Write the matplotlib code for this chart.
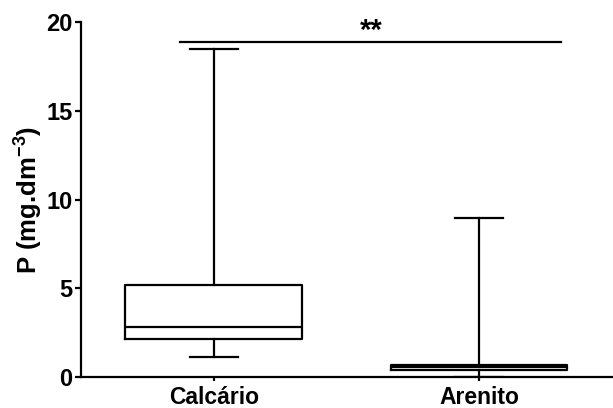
import matplotlib.pyplot as plt

plt.rcParams['font.family'] = ['Liberation Sans', 'DejaVu Sans']
plt.rcParams['mathtext.fontset'] = 'custom'
plt.rcParams['mathtext.bf'] = 'Liberation Sans:bold'
plt.rcParams['mathtext.rm'] = 'Liberation Sans:bold'
plt.rcParams['mathtext.default'] = 'bf'

# dados (P em mg.dm-3)
grupos = ['Calcário', 'Arenito']
minimo = [1.1, 0.0]
q1 = [2.12, 0.42]
mediana = [2.8, 0.55]
q3 = [5.18, 0.69]
maximo = [18.5, 8.95]

stats = []
for i, g in enumerate(grupos):
    stats.append(dict(label=g, whislo=minimo[i], q1=q1[i], med=mediana[i],
                      q3=q3[i], whishi=maximo[i]))

fig = plt.figure(figsize=(6.13, 4.08), dpi=100)
ax = fig.add_axes([0.132, 0.076, 0.866, 0.870])

lw = 1.6
ax.bxp(stats, positions=[1, 2], widths=0.665, showfliers=False,
       capwidths=0.18,
       boxprops=dict(color='black', linewidth=lw),
       medianprops=dict(color='black', linewidth=lw),
       whiskerprops=dict(color='black', linewidth=lw),
       capprops=dict(color='black', linewidth=lw))

# linha de significância
ax.plot([0.872, 2.308], [18.9, 18.9], color='black', linewidth=1.6)
ax.text(1.594, 18.7, '**', ha='center', va='bottom', fontsize=21, fontweight='bold')

ax.set_xlim(0.5, 2.5)
ax.set_ylim(0, 20)
ax.set_yticks([0, 5, 10, 15, 20])
ax.set_xticks([1, 2])
ax.set_xticklabels(grupos)
ax.set_ylabel('P (mg.dm$^{-3}$)', fontsize=18.5, fontweight='bold', labelpad=1)

for lab in ax.get_yticklabels():
    lab.set_fontweight('bold')
    lab.set_fontsize(17)
for lab in ax.get_xticklabels():
    lab.set_fontweight('bold')
    lab.set_fontsize(16.5)

ax.spines['top'].set_visible(False)
ax.spines['right'].set_visible(False)
ax.spines['left'].set_linewidth(1.6)
ax.spines['bottom'].set_linewidth(1.6)
ax.spines['bottom'].set_zorder(0)
ax.tick_params(axis='y', direction='out', length=4, width=1.6, pad=2)
ax.tick_params(axis='x', direction='out', length=3, width=1.6, pad=3.5)

fig.savefig('out.png', dpi=100)
